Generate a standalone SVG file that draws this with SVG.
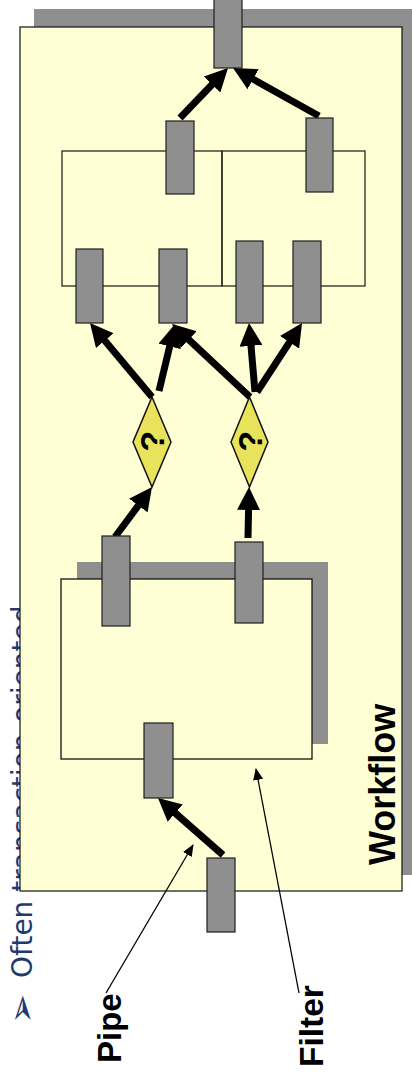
<svg xmlns="http://www.w3.org/2000/svg" width="412" height="1076" viewBox="0 0 412 1076">
<defs>
<style>
.node{fill:#8f8f8f;stroke:#1e1e1e;stroke-width:1.2}
.box{fill:none;stroke:#2a2a1e;stroke-width:1.3}
.shadow{fill:#8f8f8f}
.dec{fill:#e8e35a;stroke:#111;stroke-width:1.5}
.thick{stroke:#000;stroke-width:7;fill:none;marker-end:url(#ah)}
.thin{stroke:#000;stroke-width:1.3;fill:none;marker-end:url(#ta)}
.lbl{font-family:"Liberation Sans",Arial,sans-serif;font-weight:bold;fill:#000}
.bul{font-family:"DejaVu Sans",sans-serif;fill:#1f3a6e}
</style>
<marker id="ah" viewBox="0 0 23 23" refX="7" refY="11.5" markerWidth="23" markerHeight="23" markerUnits="userSpaceOnUse" orient="auto">
<path d="M0,0 L23,11.5 L0,23 z" fill="#000"/>
</marker>
<marker id="ta" viewBox="0 0 12 10" refX="11" refY="5" markerWidth="12" markerHeight="10" markerUnits="userSpaceOnUse" orient="auto">
<path d="M0,0 L12,5 L0,10 z" fill="#000"/>
</marker>
</defs>
<rect width="412" height="1076" fill="#fff"/>

<g id="bullet-text">
<text class="bul" font-size="28" transform="translate(32,978) rotate(-90)">Often transaction-oriented</text>
<text class="bul" font-size="36" transform="translate(34,1024) rotate(-90)">➢</text>
</g>

<g id="workflow">
<rect class="shadow" x="34" y="9" width="382" height="866"/>
<rect x="20" y="27" width="382" height="864" fill="#ffffd5" stroke="#111" stroke-width="1.2"/>
<text class="lbl" font-size="36" transform="translate(395,865) rotate(-90)">Workflow</text>
</g>

<g id="filter-left">
<rect class="box" x="62" y="151" width="160" height="135"/>
</g>
<g id="filter-right">
<rect class="box" x="222" y="151" width="143" height="135"/>
</g>
<g id="filter-main">
<rect class="shadow" x="77" y="562" width="251" height="182"/>
<rect x="61" y="579" width="251" height="180" fill="#ffffd5" stroke="#111" stroke-width="1.3"/>
</g>

<g id="connectors">
<line class="thick" x1="180" y1="118" x2="216.9" y2="79.5"/>
<line class="thick" x1="319" y1="116" x2="247" y2="75.8"/>
<line class="thick" x1="152" y1="397" x2="100.3" y2="335.3"/>
<line class="thick" x1="159" y1="391" x2="171.3" y2="339.6"/>
<line class="thick" x1="250" y1="397" x2="183.7" y2="334.9"/>
<line class="thick" x1="255" y1="392" x2="250.4" y2="338.9"/>
<line class="thick" x1="257" y1="392" x2="293.3" y2="336.4"/>
<line class="thick" x1="115" y1="537" x2="142.5" y2="499.9"/>
<line class="thick" x1="248" y1="538" x2="248.7" y2="503"/>
<line class="thick" x1="223" y1="855" x2="170" y2="808.5"/>
<line class="thin" x1="106" y1="993" x2="193" y2="845"/>
<line class="thin" x1="299" y1="993" x2="256" y2="769"/>
</g>

<g id="port-out"><rect class="node" x="214" y="-4" width="28" height="72"/></g>
<g id="port-l2a"><rect class="node" x="166" y="121" width="28" height="73"/></g>
<g id="port-l2b"><rect class="node" x="306" y="118" width="27" height="74"/></g>
<g id="port-l3a"><rect class="node" x="76" y="249" width="27" height="74"/></g>
<g id="port-l3b"><rect class="node" x="159" y="249" width="28" height="74"/></g>
<g id="port-l3c"><rect class="node" x="236" y="241" width="27" height="82"/></g>
<g id="port-l3d"><rect class="node" x="293" y="241" width="28" height="82"/></g>
<g id="port-a"><rect class="node" x="102" y="536" width="28" height="90"/></g>
<g id="port-b"><rect class="node" x="235" y="542" width="28" height="81"/></g>
<g id="port-c"><rect class="node" x="144" y="723" width="29" height="75"/></g>
<g id="port-in"><rect class="node" x="207" y="858" width="28" height="74"/></g>

<g id="decision-1">
<polygon class="dec" points="152,397 171,442 152,487 133,442"/>
<text class="lbl" font-size="34" text-anchor="middle" transform="translate(164,441) rotate(-90)">?</text>
</g>
<g id="decision-2">
<polygon class="dec" points="249.5,397 268,442 249.5,487 231,442"/>
<text class="lbl" font-size="34" text-anchor="middle" transform="translate(261.5,441) rotate(-90)">?</text>
</g>

<g id="label-pipe">
<text class="lbl" font-size="33" transform="translate(121,1063) rotate(-90)">Pipe</text>
</g>
<g id="label-filter">
<text class="lbl" font-size="33.5" transform="translate(323,1067) rotate(-90)">Filter</text>
</g>
</svg>
